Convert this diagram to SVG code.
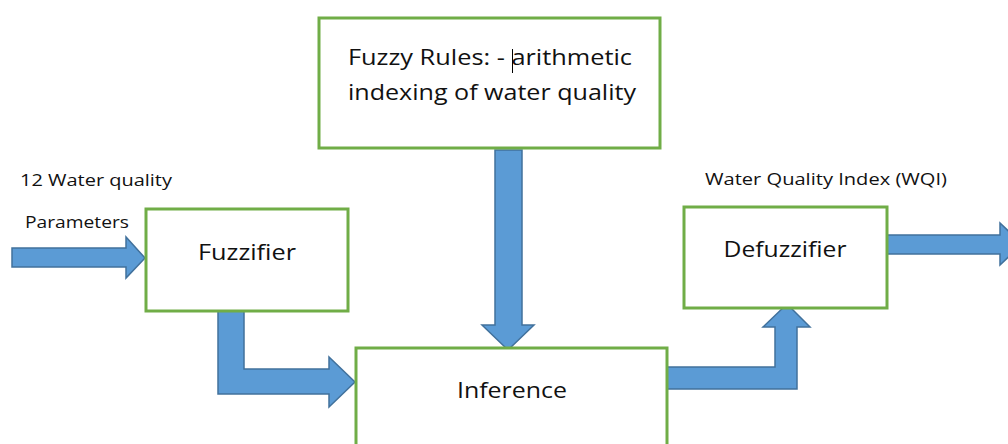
<svg xmlns="http://www.w3.org/2000/svg" width="1008" height="444" viewBox="0 0 1008 444">
<style>
.box{fill:#fff;stroke:#70AD47;stroke-width:3}
.arr{fill:#5B9BD5;stroke:#41719C;stroke-width:1.5;stroke-linejoin:miter}
.t{font-family:"Open Sans","Noto Sans",sans-serif;fill:#111;text-anchor:middle}
.big{font-size:22px}
.sm{font-size:17px}
</style>
<rect width="1008" height="444" fill="#fff"/>
<g id="connectors">
<path class="arr" d="M12,248 H126 V237 L145,258 L126,278 V267 H12 Z"/>
<path class="arr" d="M218,311 H244 V369 H329 V357 L355,382 L329,407 V394 H218 Z"/>
<path class="arr" d="M495,150 H522 V325 H534 L508,350 L482,325 H495 Z"/>
<path class="arr" d="M667,367 H775 V327 H763 L787,304 L810,327 H797 V389 H667 Z"/>
<path class="arr" d="M887,235 H1000 V223 L1022,244 L1000,265 V254 H887 Z"/>
</g>
<g id="fuzzy-rules">
<rect class="box" x="319" y="18" width="341" height="130"/>
<text class="t big" x="490" y="65" textLength="284" lengthAdjust="spacingAndGlyphs">Fuzzy Rules: - arithmetic</text>
<text class="t big" x="492" y="100" textLength="288" lengthAdjust="spacingAndGlyphs">indexing of water quality</text>
<line x1="512.5" y1="49" x2="512.5" y2="73" stroke="#000" stroke-width="1"/>
</g>
<g id="fuzzifier">
<rect class="box" x="146" y="209" width="202" height="102"/>
<text class="t big" x="247" y="260" textLength="98" lengthAdjust="spacingAndGlyphs">Fuzzifier</text>
</g>
<g id="inference">
<rect class="box" x="356" y="348" width="311" height="110"/>
<text class="t big" x="512" y="398" textLength="110" lengthAdjust="spacingAndGlyphs">Inference</text>
</g>
<g id="defuzzifier">
<rect class="box" x="684" y="207" width="203" height="101"/>
<text class="t big" x="785" y="257" textLength="123" lengthAdjust="spacingAndGlyphs">Defuzzifier</text>
</g>
<g id="labels">
<text class="t sm" x="96" y="186" textLength="152" lengthAdjust="spacingAndGlyphs">12 Water quality</text>
<text class="t sm" x="77" y="228" textLength="104" lengthAdjust="spacingAndGlyphs">Parameters</text>
<text class="t sm" x="826" y="185" textLength="242" lengthAdjust="spacingAndGlyphs">Water Quality Index (WQI)</text>
</g>
</svg>
